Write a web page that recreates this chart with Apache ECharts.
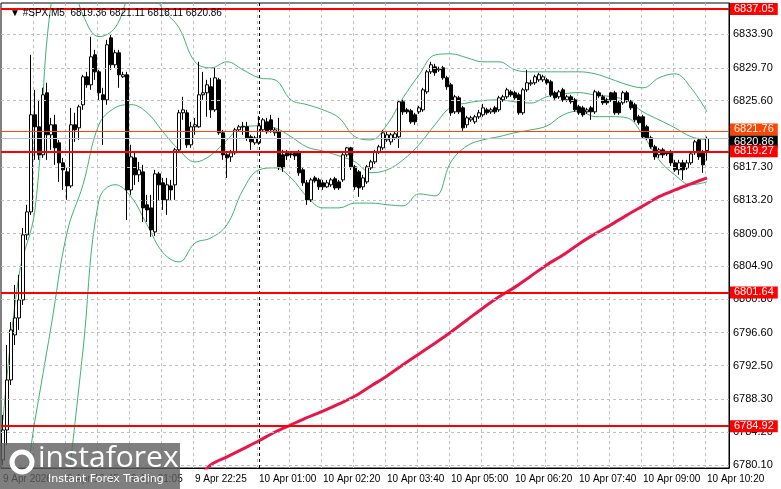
<!DOCTYPE html>
<html>
<head>
<meta charset="utf-8">
<script src="https://cdn.jsdelivr.net/npm/echarts@6/dist/echarts.min.js"></script>
<style>html,body{margin:0;padding:0;background:#fff}#main{width:781px;height:489px}</style>
</head>
<body>
<div id="main"></div>
<script>
// SPX M5 candles: [open, close, low, high]
var candles = [
[6780.7,6784.45,6780.08,6786.33],[6784.45,6790.7,6782.58,6795.08],[6790.7,6796.95,6790.08,6797.95],[6796.33,6798.45,6795.08,6802.58],
[6798.45,6800.7,6796.95,6803.83],[6800.7,6808.83,6800.08,6809.7],[6808.83,6811.7,6808.2,6812.58],[6811.7,6823.83,6811.33,6831.33],
[6823.83,6822.33,6818.2,6826.95],[6822.33,6818.83,6818.2,6825.7],[6818.83,6826.33,6818.45,6827.2],[6826.58,6821.33,6818.2,6827.83],
[6821.33,6822.58,6819.45,6823.45],[6822.58,6819.7,6817.58,6823.83],[6820.33,6817.83,6815.45,6820.7],[6817.83,6816.95,6814.45,6818.45],
[6816.7,6814.95,6813.2,6817.2],[6814.95,6822.58,6814.7,6824.7],[6822.58,6821.95,6820.45,6824.08],[6822.2,6824.83,6820.7,6825.08],
[6825.08,6828.58,6824.45,6828.83],[6828.58,6827.58,6827.2,6829.2],[6827.58,6831.08,6826.95,6833.58],[6831.33,6829.2,6828.2,6831.95],
[6829.2,6826.58,6825.7,6829.45],[6826.33,6825.7,6820.08,6827.2],[6825.7,6832.58,6825.08,6833.2],[6833.45,6830.08,6829.45,6833.83],
[6830.08,6831.58,6829.7,6831.95],[6831.58,6828.83,6827.2,6831.95],[6828.58,6828.83,6828.45,6829.2],[6828.83,6814.45,6810.7,6829.2],
[6814.45,6818.58,6813.83,6820.08],[6818.45,6816.33,6815.08,6819.2],[6816.33,6816.95,6815.45,6817.95],[6816.7,6812.2,6810.45,6817.58],
[6812.58,6811.95,6810.45,6813.83],[6812.2,6809.45,6808.58,6813.83],[6809.2,6816.45,6808.7,6816.95],[6816.45,6815.08,6813.2,6816.7],
[6815.33,6813.2,6811.95,6815.95],[6813.2,6815.08,6811.33,6815.95],[6814.95,6814.45,6813.2,6815.7],[6815.08,6819.45,6813.2,6819.7],
[6819.45,6824.08,6819.2,6824.45],[6824.08,6824.45,6823.2,6826.08],[6824.08,6820.08,6819.7,6824.45],[6820.08,6822.33,6819.7,6822.95],
[6822.33,6822.58,6821.33,6823.45],[6822.33,6826.33,6822.2,6830.45],[6826.33,6826.58,6825.7,6829.2],[6826.58,6827.58,6823.58,6828.2],
[6827.33,6824.45,6823.45,6828.45],[6824.45,6828.45,6824.2,6829.7],[6828.2,6821.58,6821.33,6828.45],[6821.58,6818.83,6818.2,6821.95],
[6818.83,6818.45,6815.95,6819.2],[6818.58,6819.08,6817.95,6819.45],[6819.08,6821.95,6818.83,6822.2],[6821.95,6822.33,6821.7,6822.58],
[6822.33,6822.4,6821.33,6822.95],[6822.33,6820.95,6820.58,6822.95],[6821.08,6820.45,6819.45,6821.33],[6820.33,6820.95,6820.08,6821.2],
[6820.33,6822.45,6820.08,6823.7],[6821.95,6823.2,6821.7,6823.45],[6822.95,6821.7,6821.45,6823.45],[6823.2,6821.95,6821.58,6823.83],
[6821.58,6821.95,6821.2,6822.2],[6821.7,6817.33,6816.95,6823.45],[6818.83,6817.2,6816.7,6819.45],[6819.08,6818.7,6818.2,6819.45],
[6818.95,6818.83,6818.45,6819.2],[6819.08,6818.7,6818.2,6819.2],[6819.08,6816.58,6816.2,6819.45],[6816.95,6815.33,6814.95,6817.2],
[6815.33,6813.2,6812.58,6815.7],[6813.2,6815.7,6812.95,6815.95],[6815.95,6815.58,6815.33,6816.2],[6815.7,6814.83,6814.45,6815.95],
[6815.33,6814.83,6814.45,6815.7],[6814.83,6815.33,6814.7,6815.7],[6815.08,6815.7,6814.83,6815.95],[6815.83,6814.7,6814.45,6816.08],
[6815.45,6814.7,6814.45,6815.7],[6815.7,6818.83,6815.45,6819.08],[6818.83,6819.7,6818.58,6819.83],[6819.7,6817.33,6816.95,6819.83],
[6817.33,6814.83,6814.45,6817.58],[6816.7,6814.7,6813.58,6816.95],[6814.83,6815.95,6814.45,6816.33],[6815.45,6817.33,6815.2,6817.58],
[6817.2,6817.95,6816.95,6818.2],[6817.95,6819.2,6817.7,6819.45],[6819.2,6819.83,6818.95,6820.08],[6819.7,6821.58,6819.45,6821.95],
[6820.7,6821.33,6820.45,6821.7],[6820.45,6821.33,6820.08,6821.58],[6820.95,6821.45,6820.7,6821.7],[6821.08,6825.45,6819.7,6825.7],
[6825.45,6824.2,6823.83,6825.7],[6824.45,6824.2,6823.95,6824.7],[6824.33,6822.95,6822.7,6824.58],[6823.83,6822.95,6822.58,6824.08],
[6824.2,6824.7,6823.95,6824.95],[6824.45,6826.95,6824.2,6827.2],[6826.7,6829.2,6826.45,6829.45],[6829.2,6830.08,6828.95,6830.45],
[6829.83,6829.08,6828.7,6830.2],[6829.45,6829.58,6829.2,6829.83],[6829.7,6828.45,6828.2,6829.95],[6828.45,6827.33,6826.95,6828.7],
[6827.58,6824.08,6823.7,6827.83],[6824.2,6826.08,6823.95,6826.33],[6825.95,6824.2,6823.95,6826.2],[6824.7,6822.2,6821.83,6824.95],
[6822.58,6823.45,6822.2,6823.7],[6823.2,6823.45,6822.95,6823.7],[6822.95,6823.58,6822.7,6823.83],[6823.58,6824.08,6823.33,6824.45],
[6823.83,6824.7,6823.58,6825.2],[6824.45,6824.08,6823.83,6824.7],[6824.2,6824.45,6823.95,6824.7],[6824.7,6824.2,6823.95,6824.95],
[6824.45,6825.95,6824.2,6826.2],[6825.7,6826.08,6825.45,6826.33],[6826.08,6826.95,6825.83,6827.2],[6826.7,6826.33,6826.08,6826.95],
[6826.58,6825.95,6825.7,6826.83],[6826.33,6824.08,6823.83,6826.58],[6824.08,6826.95,6823.83,6827.2],[6826.95,6827.83,6826.7,6829.45],
[6827.7,6827.83,6827.45,6828.2],[6827.83,6828.58,6827.58,6828.83],[6828.2,6828.83,6827.95,6829.08],[6828.2,6828.58,6827.95,6828.83],
[6828.2,6827.83,6827.58,6828.45],[6827.95,6826.33,6826.08,6828.2],[6826.58,6825.95,6825.7,6826.83],[6826.08,6826.7,6825.83,6826.95],
[6826.95,6825.7,6825.45,6827.2],[6825.7,6826.08,6825.45,6826.33],[6826.08,6825.45,6825.2,6826.33],[6825.7,6824.45,6824.2,6825.95],
[6824.83,6824.08,6823.83,6825.08],[6824.7,6823.83,6823.58,6824.95],[6824.2,6824.45,6823.95,6824.7],[6824.7,6824.2,6823.2,6824.95],
[6824.2,6826.7,6823.95,6826.95],[6826.58,6826.2,6825.95,6826.83],[6826.08,6825.33,6825.08,6826.33],[6825.7,6825.33,6825.08,6825.95],
[6826.58,6825.7,6825.45,6826.7],[6826.58,6824.08,6823.83,6826.83],[6825.33,6824.08,6823.83,6825.58],[6825.33,6826.58,6825.08,6826.83],
[6826.58,6825.58,6825.33,6826.83],[6825.45,6824.7,6824.45,6825.7],[6825.08,6823.2,6822.95,6825.33],[6823.58,6822.83,6822.58,6823.83],
[6823.58,6821.08,6820.83,6823.83],[6822.33,6820.95,6820.7,6822.58],[6820.95,6819.83,6819.58,6821.2],[6819.83,6818.58,6818.2,6820.08],
[6818.83,6819.45,6818.45,6819.7],[6819.45,6818.83,6818.45,6819.7],[6819.08,6818.95,6818.7,6819.33],[6819.2,6817.83,6817.45,6819.45],
[6817.83,6816.95,6816.7,6818.2],[6816.95,6817.83,6816.33,6818.2],[6817.83,6816.95,6815.7,6818.2],[6817.2,6817.83,6816.95,6818.2],
[6817.83,6818.95,6817.58,6819.2],[6819.08,6820.45,6818.83,6820.7],[6820.7,6818.58,6818.2,6820.95],[6819.08,6817.58,6816.58,6819.45],
[6819.36,6820.86,6818.11,6821.11]
];
var totalSlots = 182;
var tickLabels = ['9 Apr 2026','9 Apr 19:45','9 Apr 21:05','9 Apr 22:25','10 Apr 01:00','10 Apr 02:20',
  '10 Apr 03:40','10 Apr 05:00','10 Apr 06:20','10 Apr 07:40','10 Apr 09:00','10 Apr 10:20'];
var priceTicks = [6833.90,6829.70,6825.60,6817.30,6813.20,6809.00,6804.90,6800.80,6796.60,6792.50,6788.30,6784.20,6780.10];

// Bollinger bands sampled every 4 bars
var bandIdx = [0,4,8,12,16,20,24,28,32,36,40,44,48,52,56,60,64,68,72,76,80,84,88,92,96,100,104,108,112,116,120,124,128,132,136,140,144,148,152,156,160,164,168,172,176];
var bbUpper = [6785.7,6803.8,6812.0,6837.6,6842,6836.3,6833.6,6834.7,6839,6840,6837,6834.7,6830.45,6829.7,6830.45,6829.45,6828.45,6828.2,6825.7,6825.1,6824.45,6823.45,6821.1,6820.7,6822.6,6825.95,6828.8,6831.3,6831.45,6830.95,6830.45,6830.45,6829.45,6829.2,6829.2,6829.2,6829.2,6828.95,6828.3,6827.6,6827.2,6828.45,6828.95,6827.2,6824.2];
var bbMiddle = [6772,6774,6785.7,6797.3,6809.1,6815.1,6822.6,6824.7,6825.1,6824.1,6821.7,6819.45,6817.95,6818.8,6820.7,6822.3,6822.45,6822.2,6821.1,6819.8,6819.3,6818.7,6817.95,6816.6,6816.95,6818.2,6820.1,6822.6,6824.8,6825.3,6825.6,6825.7,6825.45,6825.3,6826.1,6826.45,6826.6,6826.3,6826.1,6825.6,6824.2,6823.2,6822.2,6821.1,6820.7];
var bbLower = [6730,6735,6742,6758,6776.3,6794.45,6813.2,6815.1,6813.6,6810.1,6806.6,6805.45,6807.8,6808.45,6810.1,6814.45,6816.95,6817.2,6815.95,6813.6,6812.2,6812.2,6812.8,6812.8,6812.6,6812.45,6813.95,6813.7,6817.95,6819.95,6820.7,6821.1,6821.6,6821.95,6822.45,6823.8,6824.3,6823.6,6823.6,6823.45,6821.3,6818.2,6816.3,6815.1,6815.45];
// slow moving average (red)
var maIdx = [48,52,56,60,64,68,72,76,80,84,88,92,96,100,104,108,112,116,120,124,128,132,136,140,144,148,152,156,160,164,168,172,176];
var maValues = [6778,6780.1,6781.1,6782.1,6783.1,6784.2,6785.1,6786.0,6786.8,6787.7,6788.7,6789.95,6791.2,6792.6,6793.95,6795.3,6796.7,6798.2,6799.7,6801.1,6802.3,6803.7,6805.1,6806.3,6807.7,6808.95,6810.1,6811.3,6812.45,6813.6,6814.45,6815.2,6815.95];

var levels = [
  {v: 6837.05, c: '#ff0000', w: 2, bg: '#ff0000', dy: 0},
  {v: 6821.76, c: '#ff4500', w: 1, bg: '#ff4500', dy: -2},
  {v: 6820.86, c: '#c0c0c0', w: 1, bg: '#000000', dy: 3},
  {v: 6819.27, c: '#ff0000', w: 2, bg: '#ff0000', dy: 0},
  {v: 6801.64, c: '#ff0000', w: 2, bg: '#ff0000', dy: 0},
  {v: 6784.92, c: '#ff0000', w: 2, bg: '#ff0000', dy: 0}
];

var cats = [];
for (var i = 0; i < totalSlots; i++) cats.push(i);
function pairs(idx, vals) { return idx.map(function (x, k) { return [x, vals[k]]; }); }
var font = 'Liberation Sans';

var chart = echarts.init(document.getElementById('main'));
var bandStyle = {type: 'line', symbol: 'none', smooth: 0.4, silent: true, clip: true, lineStyle: {color: '#3cb371', width: 1}, z: 2};
chart.setOption({
    animation: false,
    backgroundColor: '#fff',
    title: {text: '▼ #SPX,M5  6819.36 6821.11 6818.11 6820.86', left: 5, top: 3,
        textStyle: {fontSize: 10, fontWeight: 'normal', color: '#000', fontFamily: font}},
    grid: {left: 1, right: 52, top: 3, bottom: 21, show: true, borderColor: '#000', borderWidth: 1},
    xAxis: {
        type: 'category', data: cats, boundaryGap: true,
        axisLine: {lineStyle: {color: '#000'}},
        axisTick: {alignWithLabel: true, interval: function (i) { return i % 16 === 0; }, lineStyle: {color: '#000'}},
        splitLine: {show: true, interval: function (i) { return i % 8 === 0 && i > 0; }, lineStyle: {color: '#c0c0c0', type: [3, 3]}},
        axisLabel: {interval: function (i) { return i % 16 === 0; }, align: 'left', margin: 6,
            fontSize: 10, color: '#000', fontFamily: font,
            formatter: function (v, i) { return tickLabels[i / 16] || ''; }}
    },
    yAxis: {
        type: 'value', position: 'right', min: 6779.7, max: 6837.8,
        axisLine: {show: true, lineStyle: {color: '#000'}}, axisTick: {show: false},
        axisLabel: {show: false}, splitLine: {show: false}
    },
    series: [
        {type: 'line', data: [], silent: true,
         markLine: {silent: true, symbol: 'none', animation: false,
            lineStyle: {color: '#c0c0c0', type: [3, 3], width: 1},
            label: {position: 'end', distance: 4, color: '#000', fontSize: 11, fontFamily: font,
                formatter: function (p) { return p.value.toFixed(2); }},
            data: priceTicks.map(function (v) { return {yAxis: v}; })}},
        Object.assign({}, bandStyle, {data: pairs(bandIdx, bbUpper)}),
        Object.assign({}, bandStyle, {data: pairs(bandIdx, bbMiddle)}),
        Object.assign({}, bandStyle, {data: pairs(bandIdx, bbLower)}),
        {type: 'line', symbol: 'none', smooth: 0.3, silent: true, clip: true, data: pairs(maIdx, maValues), z: 3,
         lineStyle: {color: '#e8174a', width: 3}},
        {type: 'candlestick', data: candles, barWidth: 3, z: 4,
         itemStyle: {color: '#fff', color0: '#000', borderColor: '#000', borderColor0: '#000', borderWidth: 1},
         markLine: {silent: true, symbol: 'none', animation: false,
            data: [{xAxis: 64, lineStyle: {color: '#000', type: [3, 3], width: 1}, label: {show: false}}].concat(
                levels.map(function (l) {
                    return {yAxis: l.v, lineStyle: {color: l.c, width: l.w, type: 'solid'},
                        label: {position: 'end', distance: 1, color: '#fff', backgroundColor: l.bg,
                            padding: [1, 4, 0, 4], offset: [0, l.dy], fontSize: 11, fontFamily: font,
                            formatter: l.v.toFixed(2)}};
                }))}}
    ],
    graphic: [
        {type: 'rect', shape: {x: 0, y: 443, width: 180, height: 46}, style: {fill: 'rgba(95,95,95,0.8)'}, z: 100},
        {type: 'circle', shape: {cx: 22, cy: 462, r: 10}, style: {fill: 'none', stroke: '#fff', lineWidth: 5}, z: 101},
        {type: 'text', x: 38, y: 443, style: {text: 'instaforex', fill: '#fff', font: '30px "Open Sans"'}, z: 101},
        {type: 'text', x: 48, y: 474, style: {text: 'Instant Forex Trading', fill: '#fff', font: '11px "DejaVu Sans"'}, z: 101}
    ]
});
</script>
</body>
</html>
